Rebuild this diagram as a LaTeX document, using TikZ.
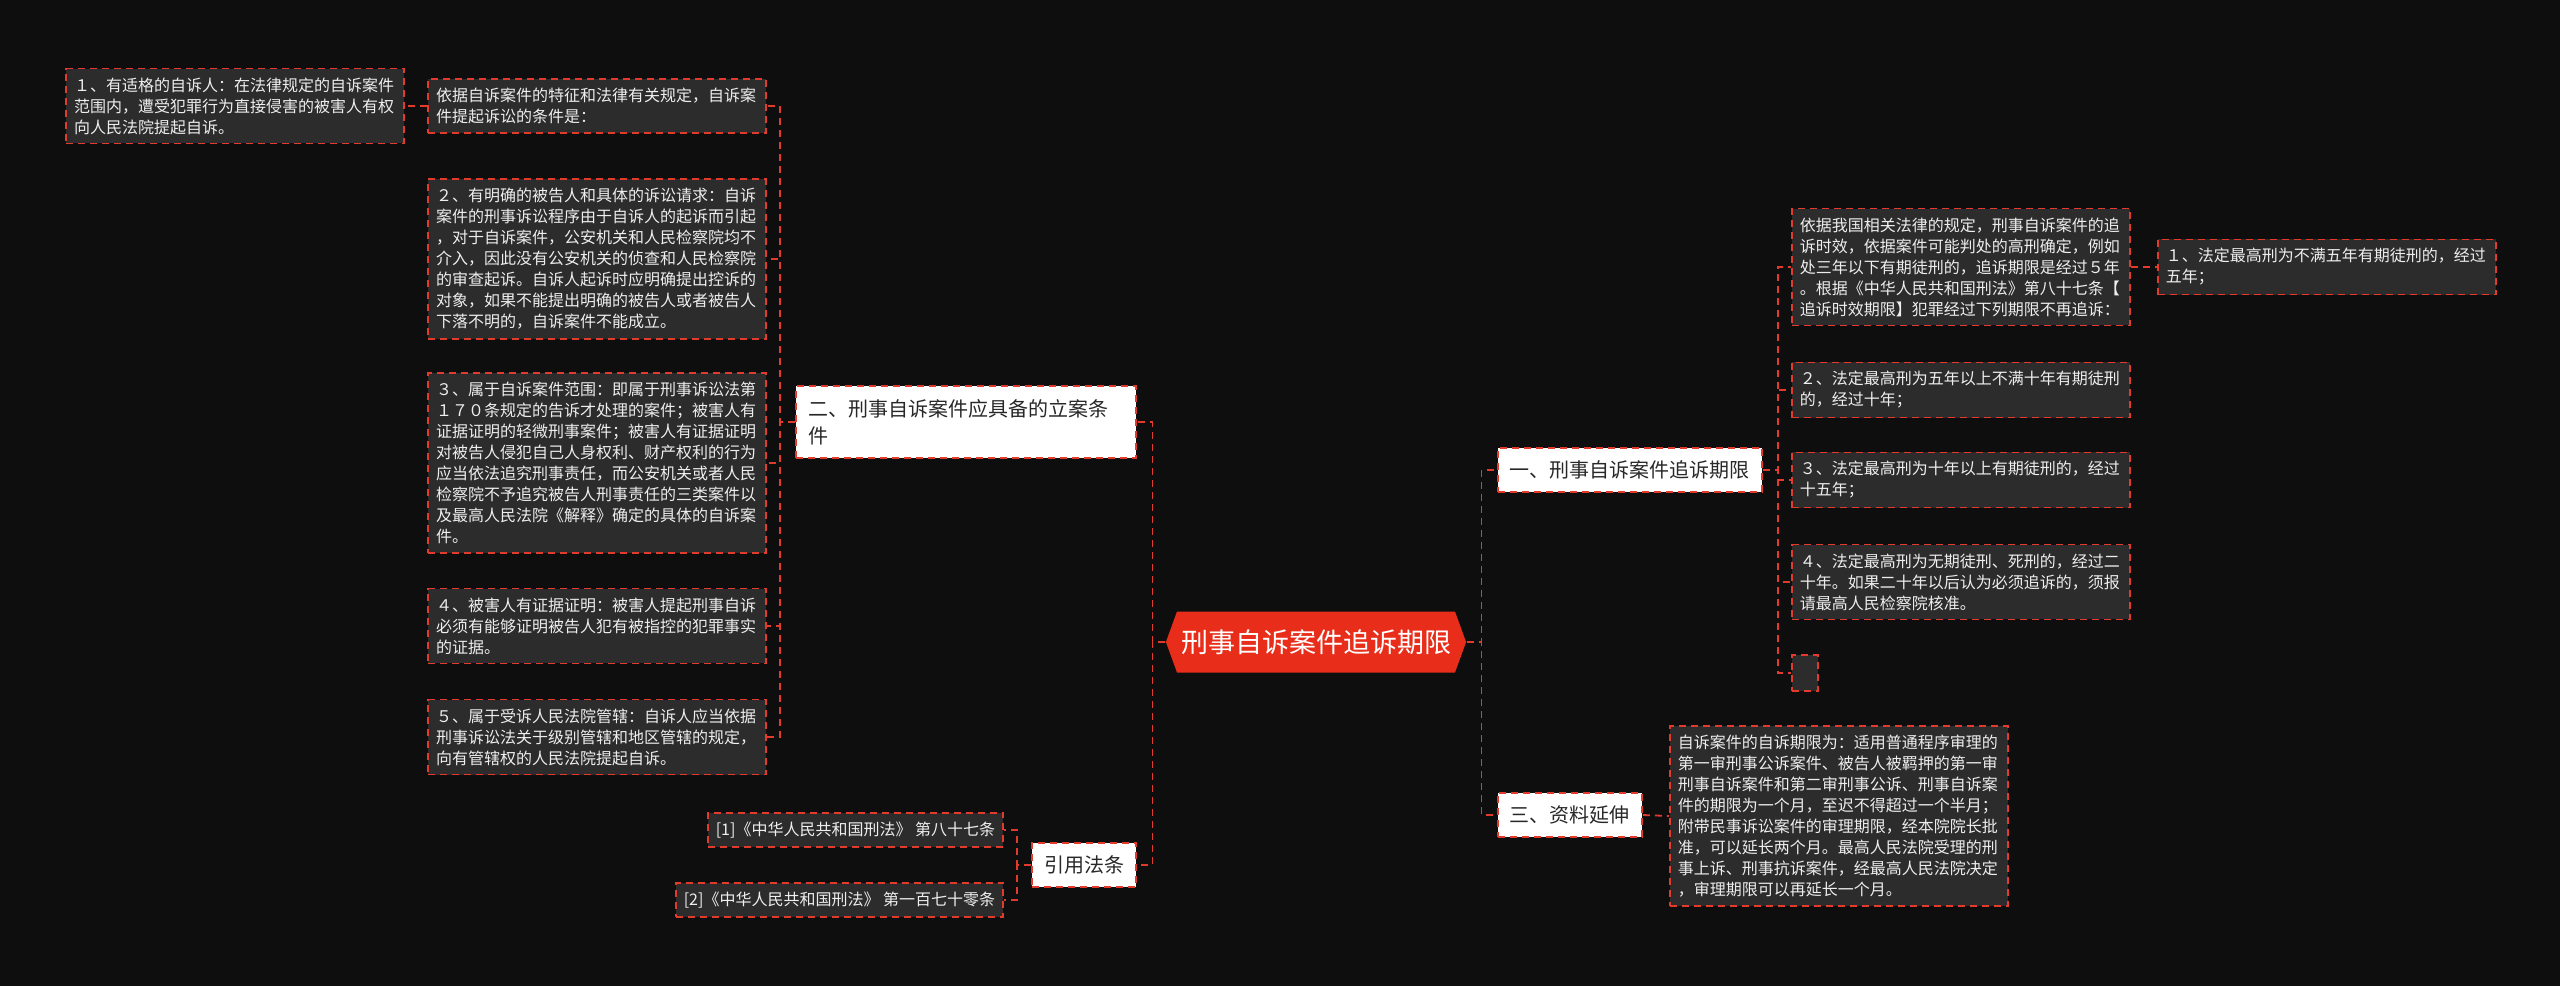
\documentclass[tikz,border=0pt]{standalone}
\usepackage{fontspec}
\usepackage{xcolor}
\usepackage{tikz}
\usetikzlibrary{positioning,calc,shapes.symbols}
\newfontfamily\cjkfont{Noto Sans CJK SC}
\definecolor{bgdark}{RGB}{14,14,14}
\definecolor{mred}{RGB}{226,58,44}
\definecolor{rootred}{RGB}{232,46,26}
\definecolor{leafgray}{RGB}{44,44,44}
\definecolor{leaftext}{RGB}{238,238,238}
\definecolor{branchtext}{RGB}{40,40,40}

\begin{document}
\begin{tikzpicture}[
    x=0.5pt, y=-0.5pt,
    link/.style={draw=mred, line width=0.9pt, dash pattern=on 3.5pt off 2.5pt},
    leafbase/.style={
        draw=mred,
        line width=0.9pt,
        dash pattern=on 3.5pt off 2.5pt,
        fill=leafgray,
        text=leaftext,
        font=\cjkfont\fontsize{8pt}{10.5pt}\selectfont,
        inner xsep=4pt,
        inner ysep=4.5pt
    },
    leaf/.style={leafbase, text width=161pt, align=left},
    branch/.style={
        draw=mred,
        line width=0.9pt,
        dash pattern=on 3.5pt off 2.5pt,
        fill=white,
        text=branchtext,
        font=\cjkfont\fontsize{10pt}{13.5pt}\selectfont,
        inner xsep=6pt,
        inner ysep=6.5pt
    },
    rootbox/.style={
        shape=signal,
        signal to=east and west,
        signal pointer angle=140,
        fill=rootred,
        text=white,
        font=\cjkfont\fontsize{13.5pt}{16pt}\selectfont,
        minimum height=30.5pt,
        inner xsep=2pt
    }
]
\fill[bgdark] (0,0) rectangle (2560,986);
\useasboundingbox (0,0) rectangle (2560,986);

% centre
\node[rootbox] (root) at (1316,642) {刑事自诉案件追诉期限};

% left side
\node[branch, text width=158pt, align=left, anchor=east] (er) at (1137,422) {二、刑事自诉案件应具备的立案条\\件};
\node[branch, anchor=east] (yin) at (1137,865) {引用法条};

\node[leaf, anchor=east] (intro) at (767,106) {依据自诉案件的特征和法律有关规定，自诉案\\件提起诉讼的条件是：};
\node[leaf, anchor=east] (cond1) at (405,106) {１、有适格的自诉人：在法律规定的自诉案件\\范围内，遭受犯罪行为直接侵害的被害人有权\\向人民法院提起自诉。};
\node[leaf, anchor=east] (cond2) at (767,259) {２、有明确的被告人和具体的诉讼请求：自诉\\案件的刑事诉讼程序由于自诉人的起诉而引起\\，对于自诉案件，公安机关和人民检察院均不\\介入，因此没有公安机关的侦查和人民检察院\\的审查起诉。自诉人起诉时应明确提出控诉的\\对象，如果不能提出明确的被告人或者被告人\\下落不明的，自诉案件不能成立。};
\node[leaf, anchor=east] (cond3) at (767,463) {３、属于自诉案件范围：即属于刑事诉讼法第\\１７０条规定的告诉才处理的案件；被害人有\\证据证明的轻微刑事案件；被害人有证据证明\\对被告人侵犯自己人身权利、财产权利的行为\\应当依法追究刑事责任，而公安机关或者人民\\检察院不予追究被告人刑事责任的三类案件以\\及最高人民法院《解释》确定的具体的自诉案\\件。};
\node[leaf, anchor=east] (cond4) at (767,626) {４、被害人有证据证明：被害人提起刑事自诉\\必须有能够证明被告人犯有被指控的犯罪事实\\的证据。};
\node[leaf, anchor=east] (cond5) at (767,737) {５、属于受诉人民法院管辖：自诉人应当依据\\刑事诉讼法关于级别管辖和地区管辖的规定，\\向有管辖权的人民法院提起自诉。};

\node[leafbase, anchor=east] (ref1) at (1004,830) {[1]《中华人民共和国刑法》 第八十七条};
\node[leafbase, anchor=east] (ref2) at (1004,900) {[2]《中华人民共和国刑法》 第一百七十零条};

% right side
\node[branch, anchor=west] (yi) at (1497,470) {一、刑事自诉案件追诉期限};
\node[branch, anchor=west] (san) at (1497,815) {三、资料延伸};

\node[leaf, anchor=west] (lawbase) at (1791,267) {依据我国相关法律的规定，刑事自诉案件的追\\诉时效，依据案件可能判处的高刑确定，例如\\处三年以下有期徒刑的，追诉期限是经过５年\\。根据《中华人民共和国刑法》第八十七条【\\追诉时效期限】犯罪经过下列期限不再追诉：};
\node[leaf, anchor=west] (term1) at (2157,267) {１、法定最高刑为不满五年有期徒刑的，经过\\五年；};
\node[leaf, anchor=west] (term2) at (1791,390) {２、法定最高刑为五年以上不满十年有期徒刑\\的，经过十年；};
\node[leaf, anchor=west] (term3) at (1791,480) {３、法定最高刑为十年以上有期徒刑的，经过\\十五年；};
\node[leaf, anchor=west] (term4) at (1791,582) {４、法定最高刑为无期徒刑、死刑的，经过二\\十年。如果二十年以后认为必须追诉的，须报\\请最高人民检察院核准。};
\node[leafbase, anchor=west, minimum width=13pt, minimum height=18pt, inner sep=0pt] (blank) at (1791,673) {};

\node[leaf, anchor=west] (extra) at (1669,816) {自诉案件的自诉期限为：适用普通程序审理的\\第一审刑事公诉案件、被告人被羁押的第一审\\刑事自诉案件和第二审刑事公诉、刑事自诉案\\件的期限为一个月，至迟不得超过一个半月；\\附带民事诉讼案件的审理期限，经本院院长批\\准，可以延长两个月。最高人民法院受理的刑\\事上诉、刑事抗诉案件，经最高人民法院决定\\，审理期限可以再延长一个月。};

% connectors
\foreach \n in {er,yin}
    \draw[link] (root.west) -- ++(-13,0) |- (\n.east);
\foreach \n in {yi,san}
    \draw[link] (root.east) -- ++(15,0) |- (\n.west);
\foreach \n in {intro,cond2,cond3,cond4,cond5}
    \draw[link] (er.west) -- ++(-15,0) |- (\n.east);
\draw[link] (intro.west) -- (cond1.east);
\foreach \n in {ref1,ref2}
    \draw[link] (yin.west) -- ++(-14,0) |- (\n.east);
\foreach \n in {lawbase,term2,term3,term4,blank}
    \draw[link] (yi.east) -- ++(15,0) |- (\n.west);
\draw[link] (lawbase.east) -- (term1.west);
\draw[link] (san.east) -- (extra.west);
\end{tikzpicture}
\end{document}
